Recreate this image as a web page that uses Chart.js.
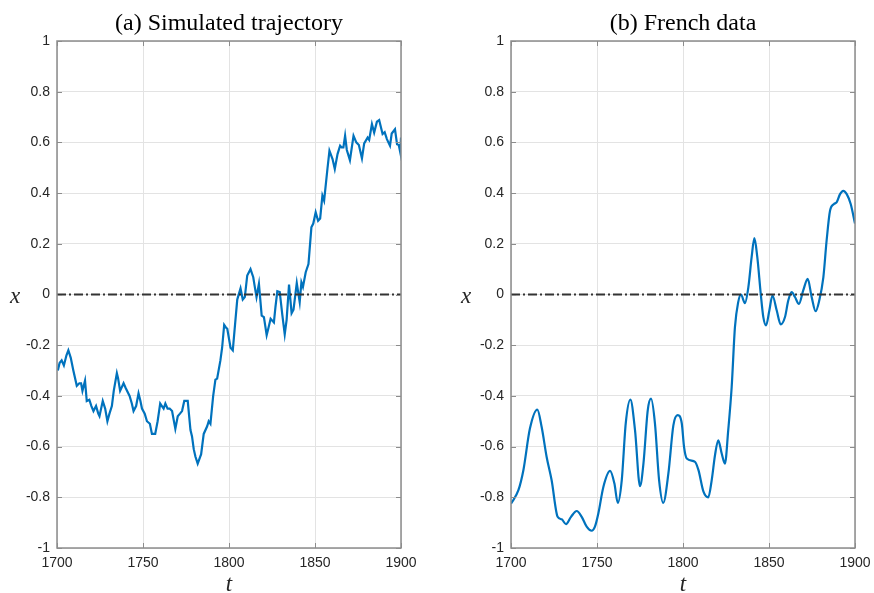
<!DOCTYPE html>
<html>
<head>
<meta charset="utf-8">
<script src="https://cdn.jsdelivr.net/npm/chart.js@4.4.1/dist/chart.umd.min.js"></script>
<style>
  body { margin: 0; background: #fff; }
  #wrap { position: relative; width: 874px; height: 593px; }
  .panel { position: absolute; top: 0; width: 437px; height: 593px; }
</style>
</head>
<body>
<div id="wrap">
  <div class="panel" style="left:0"><canvas id="chartA"></canvas></div>
  <div class="panel" style="left:437px"><canvas id="chartB"></canvas></div>
</div>
<script>
// --- data ---
const simYears = [1700.5, 1701.5, 1702.7, 1704, 1705.5, 1706.6, 1708, 1709.5, 1711.5, 1713, 1714, 1714.8, 1716.3, 1717.3, 1718.8, 1720, 1721.2, 1722.7, 1724, 1724.7, 1726.6, 1728, 1729.3, 1730.5, 1731.9, 1733, 1734.8, 1735.5, 1736.7, 1738.7, 1740, 1742.2, 1743.5, 1744.5, 1746, 1747.4, 1748.5, 1749.4, 1751, 1752.3, 1754, 1755.2, 1757.1, 1758.5, 1760, 1761, 1762, 1763, 1764.3, 1765.5, 1766.9, 1768.8, 1770.2, 1771.5, 1772.7, 1774, 1776, 1777.6, 1778.5, 1779.5, 1780.5, 1781.8, 1783.8, 1785.3, 1787.3, 1788.2, 1789.2, 1790.8, 1792.1, 1793.1, 1795, 1796, 1797.2, 1798.2, 1799, 1800.9, 1802.2, 1803.5, 1804.8, 1806.7, 1808, 1809.2, 1810.6, 1812.5, 1814.1, 1815, 1816, 1817.4, 1819, 1820.3, 1821.9, 1823, 1824.2, 1826.1, 1827, 1828.1, 1829.5, 1831, 1832.4, 1833.5, 1834.9, 1836.4, 1837.5, 1839.4, 1841.1, 1842.1, 1843, 1844.6, 1846.2, 1847.9, 1849, 1850.4, 1851.8, 1853, 1854.3, 1855.3, 1857.3, 1858.4, 1860.2, 1861.5, 1863.1, 1864.6, 1865.5, 1866.5, 1867.5, 1868.5, 1870.3, 1872.4, 1874, 1875.5, 1877.3, 1878.6, 1880.6, 1881.5, 1883.1, 1884.4, 1886, 1887.3, 1889.3, 1890.5, 1891.8, 1893.6, 1894.6, 1896.5, 1897.7, 1898.7, 1899.6, 1900];
const simValues = [-0.30, -0.27, -0.26, -0.28, -0.24, -0.22, -0.25, -0.30, -0.36, -0.35, -0.35, -0.38, -0.34, -0.42, -0.415, -0.44, -0.46, -0.44, -0.47, -0.48, -0.42, -0.45, -0.50, -0.47, -0.44, -0.38, -0.31, -0.33, -0.38, -0.35, -0.37, -0.40, -0.43, -0.46, -0.44, -0.39, -0.42, -0.45, -0.47, -0.50, -0.51, -0.55, -0.55, -0.50, -0.43, -0.44, -0.45, -0.43, -0.45, -0.45, -0.46, -0.53, -0.48, -0.47, -0.46, -0.42, -0.42, -0.535, -0.56, -0.61, -0.64, -0.667, -0.63, -0.55, -0.52, -0.50, -0.51, -0.40, -0.336, -0.332, -0.26, -0.21, -0.12, -0.13, -0.135, -0.21, -0.22, -0.12, -0.02, 0.024, -0.02, -0.01, 0.075, 0.10, 0.068, 0.03, -0.01, 0.042, -0.083, -0.089, -0.16, -0.13, -0.096, -0.11, -0.05, 0.013, 0.01, -0.08, -0.157, -0.10, 0.039, -0.074, -0.06, 0.045, -0.03, 0.048, 0.03, 0.088, 0.12, 0.265, 0.28, 0.324, 0.291, 0.30, 0.39, 0.37, 0.50, 0.567, 0.534, 0.495, 0.554, 0.587, 0.58, 0.58, 0.626, 0.57, 0.53, 0.626, 0.60, 0.59, 0.537, 0.596, 0.619, 0.61, 0.672, 0.639, 0.682, 0.688, 0.633, 0.64, 0.613, 0.587, 0.635, 0.652, 0.593, 0.59, 0.56, 0.619];

const frYears = [1700, 1704.3, 1707.2, 1711, 1715.3, 1717.8, 1720.7, 1723.6, 1727.1, 1729.5, 1732, 1734.9, 1738.2, 1741.1, 1744, 1746.9, 1748.8, 1750.8, 1753.7, 1757.6, 1760.1, 1762.1, 1764.4, 1766.7, 1769.4, 1772.1, 1775, 1777, 1779.5, 1781.4, 1783.7, 1786.1, 1788.5, 1791.5, 1794.4, 1796.9, 1799.3, 1800.6, 1802.2, 1807, 1809, 1811.9, 1814.7, 1816.7, 1818.6, 1820.5, 1822.5, 1824.4, 1826.3, 1828.3, 1830.2, 1832.1, 1833.7, 1836, 1838, 1839.9, 1841.5, 1843.2, 1845.2, 1846.7, 1848.3, 1850.2, 1852, 1854.5, 1856.8, 1859.3, 1861.2, 1863.2, 1865.1, 1867.4, 1869.9, 1872.5, 1874.8, 1877.1, 1879.2, 1881.6, 1883.5, 1885.5, 1887.8, 1889.3, 1891.3, 1893.2, 1895.2, 1897.5, 1900];
const frValues = [-0.825, -0.772, -0.693, -0.529, -0.454, -0.522, -0.64, -0.732, -0.877, -0.887, -0.906, -0.877, -0.854, -0.877, -0.916, -0.932, -0.916, -0.863, -0.759, -0.696, -0.745, -0.822, -0.732, -0.509, -0.415, -0.535, -0.756, -0.667, -0.457, -0.411, -0.509, -0.732, -0.822, -0.706, -0.516, -0.476, -0.509, -0.601, -0.647, -0.66, -0.693, -0.778, -0.80, -0.732, -0.634, -0.575, -0.627, -0.667, -0.535, -0.365, -0.129, -0.03, 0.0, -0.034, 0.029, 0.147, 0.222, 0.147, 0.003, -0.089, -0.122, -0.063, -0.004, -0.063, -0.118, -0.089, -0.024, 0.009, -0.01, -0.037, 0.016, 0.062, -0.01, -0.066, -0.024, 0.068, 0.213, 0.331, 0.357, 0.363, 0.396, 0.409, 0.396, 0.357, 0.28];

const xTicks = [1700, 1750, 1800, 1850, 1900];
const yTicks = [-1, -0.8, -0.6, -0.4, -0.2, 0, 0.2, 0.4, 0.6, 0.8, 1];
const zeroLine = [0, 0];

const lineBlue = "#0072bd";
const axisGray = "#8c8c8c";
const textDark = "#262626";

function toPoints(xs, ys) {
  return xs.map((x, i) => ({ x: x, y: ys[i] }));
}

// frame, inward ticks, title and axis letters (MATLAB look)
const decorPlugin = {
  id: "decor",
  afterDraw(chart, args, opts) {
    const ctx = chart.ctx;
    const a = chart.chartArea;
    const xs = chart.scales.x, ys = chart.scales.y;
    ctx.save();
    ctx.strokeStyle = axisGray;
    ctx.lineWidth = 1.5;
    ctx.strokeRect(a.left, a.top, a.right - a.left, a.bottom - a.top);
    ctx.lineWidth = 1;
    xTicks.forEach((t) => {
      const px = Math.round(xs.getPixelForValue(t)) + 0.5;
      ctx.beginPath();
      ctx.moveTo(px, a.bottom); ctx.lineTo(px, a.bottom - 5);
      ctx.moveTo(px, a.top); ctx.lineTo(px, a.top + 5);
      ctx.stroke();
    });
    yTicks.forEach((t) => {
      const py = Math.round(ys.getPixelForValue(t)) + 0.5;
      ctx.beginPath();
      ctx.moveTo(a.left, py); ctx.lineTo(a.left + 5, py);
      ctx.moveTo(a.right, py); ctx.lineTo(a.right - 5, py);
      ctx.stroke();
    });

    ctx.fillStyle = "#000";
    ctx.textAlign = "center";
    ctx.textBaseline = "middle";
    ctx.font = "24px 'Liberation Serif', serif";
    ctx.fillText(opts.title, (a.left + a.right) / 2, 24);

    ctx.fillStyle = textDark;
    ctx.font = "italic 23px 'Liberation Serif', serif";
    ctx.fillText("t", (a.left + a.right) / 2, 585);
    ctx.fillText("x", opts.yLabelX, ys.getPixelForValue(0) + 2);
    ctx.restore();
  }
};

function makeChart(id, title, xs, ys, yAxisWidth, padRight, yLabelX, smooth) {
  return new Chart(document.getElementById(id), {
    type: "line",
    data: {
      datasets: [
        {
          data: toPoints([1700, 1900], zeroLine),
          borderColor: "#333333",
          borderWidth: 2,
          borderDash: [9, 3, 2, 3],
          pointRadius: 0,
          tension: 0
        },
        {
          data: toPoints(xs, ys),
          borderColor: lineBlue,
          borderWidth: 2.2,
          pointRadius: 0,
          tension: 0,
          cubicInterpolationMode: smooth ? "monotone" : "default"
        }
      ]
    },
    options: {
      responsive: false,
      animation: false,
      layout: { padding: { top: 41, right: padRight, bottom: 0, left: 0 } },
      plugins: {
        legend: { display: false },
        tooltip: { enabled: false },
        decor: { title: title, yLabelX: yLabelX }
      },
      scales: {
        x: {
          type: "linear",
          min: 1700,
          max: 1900,
          afterBuildTicks: (s) => { s.ticks = xTicks.map((v) => ({ value: v })); },
          afterFit: (s) => { s.height = 45; s.paddingLeft = 0; s.paddingRight = 0; },
          grid: { color: "#e3e3e3", drawTicks: false },
          border: { display: false },
          ticks: {
            padding: 7,
            color: textDark,
            font: { family: "'Liberation Sans', Arial, sans-serif", size: 14 },
            callback: (v) => String(v)
          }
        },
        y: {
          type: "linear",
          min: -1,
          max: 1,
          afterBuildTicks: (s) => { s.ticks = yTicks.map((v) => ({ value: v })); },
          afterFit: (s) => { s.width = yAxisWidth; s.paddingTop = 0; s.paddingBottom = 0; },
          grid: { color: "#e3e3e3", drawTicks: false },
          border: { display: false },
          ticks: {
            padding: 7,
            color: textDark,
            font: { family: "'Liberation Sans', Arial, sans-serif", size: 14 },
            callback: (v) => String(Number(v.toFixed(1)))
          }
        }
      }
    },
    plugins: [decorPlugin]
  });
}

["chartA", "chartB"].forEach((id) => {
  const c = document.getElementById(id);
  c.width = 437; c.height = 593;
});

makeChart("chartA", "(a) Simulated trajectory", simYears, simValues, 57, 36, 15, false);
makeChart("chartB", "(b) French data", frYears, frValues, 74, 19, 29, true);
</script>
</body>
</html>
